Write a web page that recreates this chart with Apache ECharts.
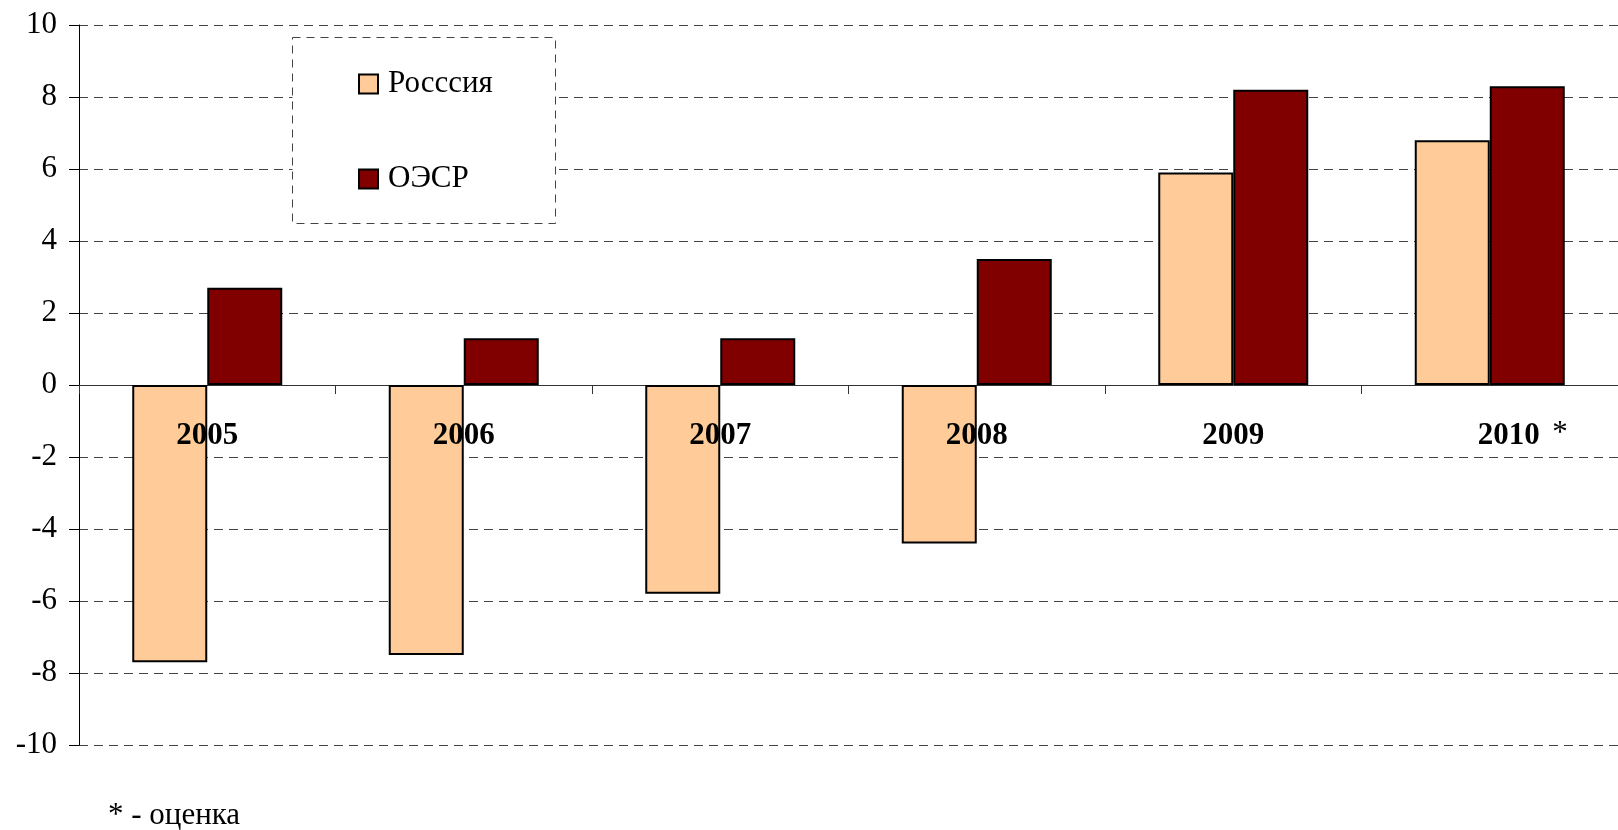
<!DOCTYPE html>
<html>
<head>
<meta charset="utf-8">
<script src="https://cdn.jsdelivr.net/npm/echarts@6/dist/echarts.min.js"></script>
<style>
html,body{margin:0;padding:0;background:#fff;}
#chart{width:1618px;height:830px;}
</style>
</head>
<body>
<div id="chart"></div>
<script>
const categories = ['2005', '2006', '2007', '2008', '2009', '2010 *'];
const russia = [-7.7, -7.5, -5.8, -4.4, 5.9, 6.8];
const oecd = [2.7, 1.3, 1.3, 3.5, 8.2, 8.3];
const seriesNames = ['Росссия', 'ОЭСР'];
const footnote = '* - оценка';

const chart = echarts.init(document.getElementById('chart'));
const serif = '"Liberation Serif", "DejaVu Serif", serif';
chart.setOption({
  animation: false,
  backgroundColor: '#fff',
  grid: { left: 79, top: 25, bottom: 85, right: -15, containLabel: false },
  legend: {
    orient: 'vertical',
    left: 358,
    top: 68,
    padding: 0,
    itemGap: 63,
    itemWidth: 19,
    itemHeight: 19,
    icon: 'rect',
    z: 20,
    textStyle: { fontFamily: serif, fontSize: 31, lineHeight: 32, color: '#000', padding: [0, 0, 0, 5] },
    data: seriesNames
  },
  graphic: [
    {
      type: 'rect', z: 15, left: 292, top: 37,
      shape: { width: 263, height: 186 },
      style: { fill: '#fff', stroke: '#444', lineWidth: 1, lineDash: [8, 6] }
    },
    {
      type: 'text', left: 108, top: 800, z: 20,
      style: { text: footnote, font: '31px ' + serif, fill: '#000' }
    }
  ],
  xAxis: {
    type: 'category',
    data: categories,
    axisLine: { onZero: true, lineStyle: { color: '#333', width: 1 } },
    axisTick: { show: true, length: 9, lineStyle: { color: '#333' } },
    axisLabel: { show: false },
    splitLine: { show: false }
  },
  yAxis: {
    type: 'value',
    min: -10, max: 10, interval: 2,
    axisLine: { show: true, lineStyle: { color: '#000', width: 1 } },
    axisTick: { show: true, length: 10, lineStyle: { color: '#000' } },
    axisLabel: { margin: 22, fontFamily: serif, fontSize: 31, color: '#000' },
    splitLine: { show: true, lineStyle: { color: '#444', type: [9, 6], width: 1 } }
  },
  series: [
    {
      name: seriesNames[0], type: 'bar', data: russia,
      barWidth: 75, barGap: '0%',
      itemStyle: { color: '#FFCC99', borderColor: '#000', borderWidth: 2 }
    },
    {
      name: seriesNames[1], type: 'bar', data: oecd,
      barWidth: 75, barGap: '0%',
      itemStyle: { color: '#800000', borderColor: '#000', borderWidth: 2 }
    },
    {
      name: 'labels', type: 'scatter', z: 10,
      data: categories.map(() => 0),
      symbolSize: 2,
      itemStyle: { color: 'rgba(0,0,0,0)' },
      silent: true,
      label: {
        show: true, position: 'inside', offset: [0, 51],
        fontFamily: serif, fontSize: 31, fontWeight: 'bold', color: '#000',
        textBorderWidth: 0, opacity: 1,
        formatter: (p) => {
          const c = categories[p.dataIndex];
          return c.indexOf(' *') >= 0 ? '{h|}' + c.replace(' *', '') + '{a|*}' : c;
        },
        rich: {
          h: { width: 66 },
          a: { width: 28, align: 'right', fontFamily: serif, fontSize: 31, fontWeight: 'normal', color: '#000', textBorderWidth: 0, padding: [0, 0, 4, 0] }
        }
      }
    }
  ]
});
</script>
</body>
</html>
